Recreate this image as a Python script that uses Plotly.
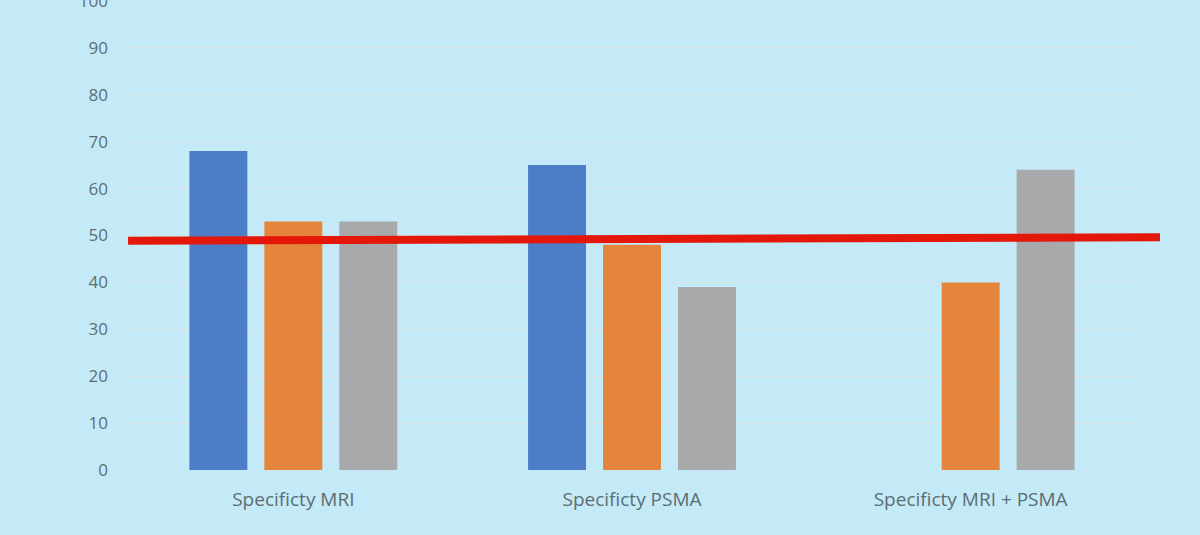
import plotly.graph_objects as go

categories = ["Specificty MRI", "Specificty PSMA", "Specificty MRI + PSMA"]
series_blue = [68, 65, None]
series_orange = [53, 48, 40]
series_gray = [53, 39, 64]
ref_line = [48.9, 49.6]  # hand-drawn red threshold line, left/right end values
y_ticks = [0, 10, 20, 30, 40, 50, 60, 70, 80, 90, 100]

bg = "#c4eaf8"
txt = "#5d6e73"
fig = go.Figure()
for name, vals, col in [("A", series_blue, "#4e7dc8"),
                        ("B", series_orange, "#e5843b"),
                        ("C", series_gray, "#a8a9ab")]:
    fig.add_trace(go.Bar(x=categories, y=vals, name=name, marker_color=col,
                         marker_line_width=0))

fig.add_shape(type="line", xref="paper", yref="y",
              x0=0.004, x1=1.0197, y0=ref_line[0], y1=ref_line[1],
              line=dict(color="#e3180b", width=8))

fig.update_layout(
    width=1200, height=535,
    paper_bgcolor=bg, plot_bgcolor=bg,
    margin=dict(l=124, r=60, t=0, b=65, autoexpand=False),
    barmode="group", bargap=0.336, bargroupgap=0.227,
    showlegend=False,
    font=dict(family="Open Sans", color=txt, size=17),
)
fig.update_yaxes(range=[0, 100.2], tickvals=y_ticks, showgrid=True,
                 gridcolor="#d6e2e4", gridwidth=1, zeroline=False,
                 automargin=False,
                 ticklabelstandoff=15, ticklabeloverflow="allow",
                 tickfont=dict(size=17, color=txt))
fig.update_xaxes(showgrid=False, showline=False, ticks="",
                 automargin=False,
                 ticklabelstandoff=16,
                 tickfont=dict(size=19, color=txt))

fig.write_html("out.html")
